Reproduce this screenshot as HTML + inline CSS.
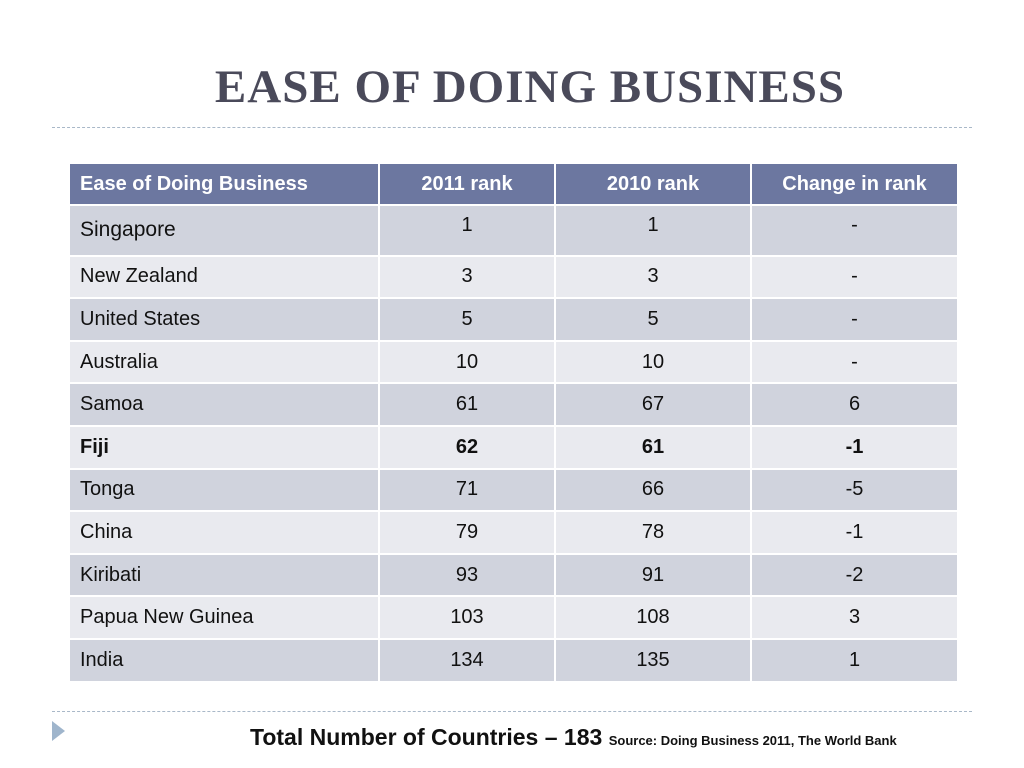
<!DOCTYPE html>
<html><head><meta charset="utf-8"><style>
body{margin:0;width:1024px;height:768px;background:#fff;position:relative;font-family:"Liberation Sans",sans-serif;overflow:hidden}
#title{position:absolute;left:0;width:1060px;top:60px;text-align:center;font-family:"Liberation Serif",serif;font-weight:bold;font-size:47px;color:#4a4a5a;letter-spacing:1px}
.dash{position:absolute;left:52px;width:920px;border-top:1px dashed #a9b8c8}
table{position:absolute;left:68px;top:162px;border-collapse:collapse;table-layout:fixed;width:889px}
td,th{border:2px solid #fff;font-size:20px;color:#111;padding:0 10px;height:40.6px}
th{background:#6c77a0;color:#fff;font-weight:bold;height:40px}
td{text-align:center}
td:first-child,th:first-child{text-align:left}
tr.d td{background:#d0d3dd}
tr.l td{background:#e9eaef}
tr.b td{font-weight:bold}
#foot{position:absolute;left:250px;top:724px;font-size:23px;font-weight:bold;color:#111;white-space:nowrap}
#foot span{font-size:13px}
#arrow{position:absolute;left:52px;top:721px;width:0;height:0;border-left:13px solid #9fb5cc;border-top:10px solid transparent;border-bottom:10px solid transparent}
</style></head><body>
<div id="title">EASE OF DOING BUSINESS</div>
<div class="dash" style="top:127px"></div>
<table>
<colgroup><col style="width:310px"><col style="width:176px"><col style="width:196px"><col style="width:207px"></colgroup>
<tr><th>Ease of Doing Business</th><th style="text-align:center">2011 rank</th><th style="text-align:center">2010 rank</th><th style="text-align:center">Change in rank</th></tr>
<tr class="d"><td style="height:43px;font-size:21px">Singapore</td><td style="vertical-align:top;padding-top:8px">1</td><td style="vertical-align:top;padding-top:8px">1</td><td style="vertical-align:top;padding-top:8px">-</td></tr>
<tr class="l"><td>New Zealand</td><td>3</td><td>3</td><td>-</td></tr>
<tr class="d"><td>United States</td><td>5</td><td>5</td><td>-</td></tr>
<tr class="l"><td>Australia</td><td>10</td><td>10</td><td>-</td></tr>
<tr class="d"><td>Samoa</td><td>61</td><td>67</td><td>6</td></tr>
<tr class="l b"><td>Fiji</td><td>62</td><td>61</td><td>-1</td></tr>
<tr class="d"><td>Tonga</td><td>71</td><td>66</td><td>-5</td></tr>
<tr class="l"><td>China</td><td>79</td><td>78</td><td>-1</td></tr>
<tr class="d"><td>Kiribati</td><td>93</td><td>91</td><td>-2</td></tr>
<tr class="l"><td>Papua New Guinea</td><td>103</td><td>108</td><td>3</td></tr>
<tr class="d"><td>India</td><td>134</td><td>135</td><td>1</td></tr>
</table>
<div class="dash" style="top:711px"></div>
<div id="arrow"></div>
<div id="foot">Total Number of Countries – 183 <span>Source: Doing Business 2011, The World Bank</span></div>
</body></html>
